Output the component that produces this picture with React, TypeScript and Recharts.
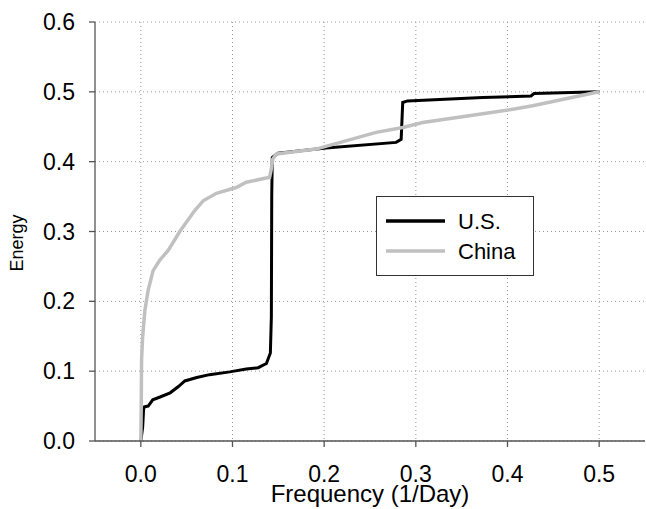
import React from "react";
import {
  LineChart,
  Line,
  XAxis,
  YAxis,
  CartesianGrid,
  Legend,
} from "recharts";

// U.S. cumulative energy vs frequency
const usFreq = [
  0, 0.002, 0.003, 0.004, 0.008, 0.013, 0.021, 0.032, 0.041, 0.048, 0.061,
  0.075, 0.097, 0.115, 0.128, 0.137, 0.1413, 0.1424, 0.1428, 0.1434, 0.1496,
  0.202, 0.2785, 0.284, 0.2857, 0.291, 0.373, 0.4256, 0.429, 0.5,
];
const usEnergy = [
  0, 0.02, 0.045, 0.049, 0.05, 0.059, 0.063, 0.069, 0.078, 0.086, 0.091,
  0.095, 0.099, 0.103, 0.105, 0.111, 0.126, 0.178, 0.35, 0.406, 0.412,
  0.4195, 0.4276, 0.432, 0.4848, 0.487, 0.492, 0.494, 0.4976, 0.5,
];

// China cumulative energy vs frequency
const cnFreq = [
  0, 0.0005, 0.0008, 0.002, 0.0044, 0.008, 0.0134, 0.0207, 0.0298, 0.0425,
  0.0588, 0.068, 0.0824, 0.104, 0.115, 0.1405, 0.1424, 0.144, 0.148, 0.191,
  0.2568, 0.2857, 0.3075, 0.358, 0.409, 0.4274, 0.5,
];
const cnEnergy = [
  0, 0.06, 0.116, 0.15, 0.187, 0.216, 0.244, 0.259, 0.273, 0.3, 0.33, 0.344,
  0.3547, 0.363, 0.3705, 0.3776, 0.39, 0.404, 0.411, 0.418, 0.442, 0.449,
  0.456, 0.4657, 0.4757, 0.48, 0.5,
];

const xTicks = [0, 0.1, 0.2, 0.3, 0.4, 0.5];
const yTicks = [0, 0.1, 0.2, 0.3, 0.4, 0.5, 0.6];
const seriesNames = ["U.S.", "China"];

const usData = usFreq.map((f, i) => ({ f, e: usEnergy[i] }));
const cnData = cnFreq.map((f, i) => ({ f, e: cnEnergy[i] }));

const FONT = '"Liberation Sans", Arial, sans-serif';
const AXIS = "#555";
const GRAY = "#c0c0c0";

// legend box drawn inside the plot
const renderLegend = () => (
  <div
    style={{
      width: 158,
      height: 80,
      boxSizing: "border-box",
      border: "1px solid #333",
      background: "#fff",
    }}
  >
    <svg width={156} height={78} style={{ display: "block" }}>
      <line x1={9} x2={68} y1={24} y2={24} stroke="#000" strokeWidth={3.5} />
      <line x1={9} x2={68} y1={54} y2={54} stroke={GRAY} strokeWidth={3.5} />
      <text x={81} y={32} fontSize={22} fontFamily={FONT} fill="#000">
        {seriesNames[0]}
      </text>
      <text x={81} y={62} fontSize={22} fontFamily={FONT} fill="#000">
        {seriesNames[1]}
      </text>
    </svg>
  </div>
);

export default function App() {
  const tickStyle = { fill: "#000", fontSize: 23, fontFamily: FONT };
  return (
    <div style={{ position: "absolute", left: 0, top: 0, background: "#fff" }}>
      <LineChart
        width={646}
        height={509}
        margin={{ top: 22, right: 1, left: 0, bottom: 0 }}
      >
        <CartesianGrid
          stroke="#999"
          strokeDasharray="1 3"
          horizontalValues={yTicks}
          verticalValues={xTicks}
        />
        <XAxis
          dataKey="f"
          type="number"
          domain={[-0.05, 0.55]}
          ticks={xTicks}
          tickFormatter={(v: number) => v.toFixed(1)}
          height={68}
          tickSize={6}
          tickMargin={19}
          stroke={AXIS}
          strokeWidth={1.3}
          tick={tickStyle}
          allowDataOverflow
          label={() => (
            <text
              x={370}
              y={502}
              textAnchor="middle"
              fontSize={24}
              fontFamily={FONT}
              fill="#000"
            >
              Frequency (1/Day)
            </text>
          )}
        />
        <XAxis
          xAxisId="top"
          orientation="top"
          type="number"
          domain={[-0.05, 0.55]}
          height={0}
          tick={false}
          tickLine={false}
          stroke={AXIS}
          strokeWidth={1.3}
        />
        <YAxis
          type="number"
          domain={[0, 0.6]}
          ticks={yTicks}
          tickFormatter={(v: number) => v.toFixed(1)}
          width={95}
          tickSize={6}
          tickMargin={14}
          stroke={AXIS}
          strokeWidth={1.3}
          tick={tickStyle}
          label={() => (
            <text
              x={0}
              y={0}
              transform="translate(23,243) rotate(-90)"
              textAnchor="middle"
              fontSize={18}
              fontFamily={FONT}
              fill="#000"
            >
              Energy
            </text>
          )}
        />
        <YAxis
          yAxisId="right"
          orientation="right"
          type="number"
          domain={[0, 0.6]}
          width={0}
          tick={false}
          tickLine={false}
          stroke={AXIS}
          strokeWidth={1.3}
        />
        <Legend
          layout="horizontal"
          verticalAlign="middle"
          align="center"
          content={renderLegend}
          wrapperStyle={{ left: 376, top: 196, width: 158, height: 80 }}
        />
        <Line
          data={usData}
          dataKey="e"
          name={seriesNames[0]}
          type="linear"
          stroke="#000"
          strokeWidth={3}
          dot={false}
          isAnimationActive={false}
        />
        <Line
          data={cnData}
          dataKey="e"
          name={seriesNames[1]}
          type="linear"
          stroke={GRAY}
          strokeWidth={3.5}
          dot={false}
          isAnimationActive={false}
        />
      </LineChart>
    </div>
  );
}
